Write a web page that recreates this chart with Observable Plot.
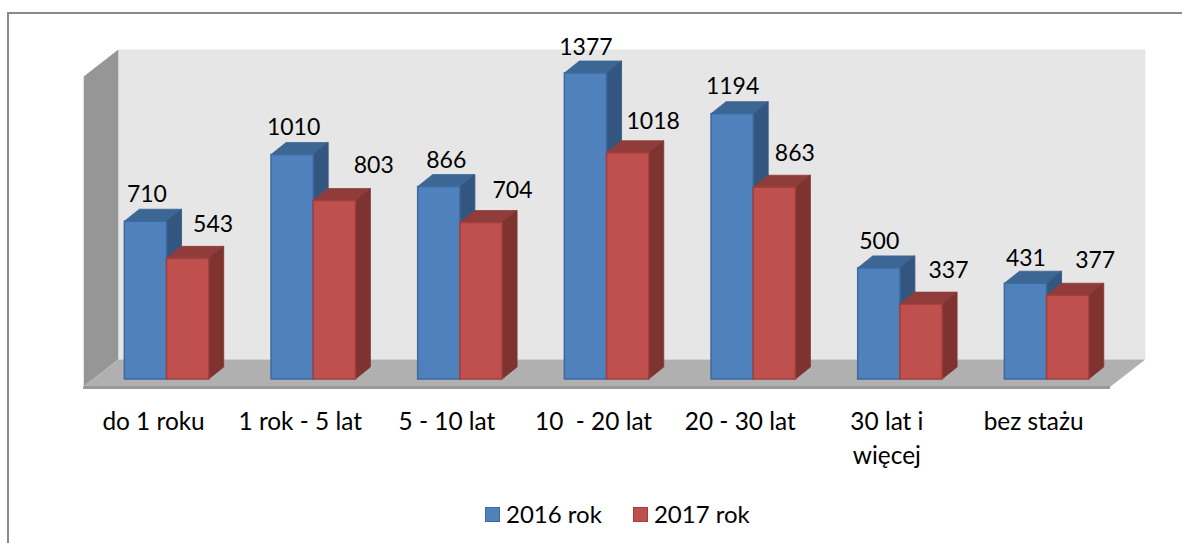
<!DOCTYPE html>
<html>
<head>
<meta charset="utf-8">
<script src="https://cdn.jsdelivr.net/npm/d3@7"></script>
<script src="https://cdn.jsdelivr.net/npm/@observablehq/plot@0.6"></script>
<style>
  html, body { margin: 0; padding: 0; background: #fff; width: 1182px; height: 543px; overflow: hidden; }
  body { position: relative; font-family: Lato, "Open Sans", sans-serif; color: #000; }
  #frame { position: absolute; left: 7px; top: 12px; right: -4px; bottom: -4px; border-left: 2px solid #8a8a8a; border-top: 2px solid #8a8a8a; }
  #chart { position: absolute; left: 0; top: 0; }
  #chart svg { display: block; background: transparent; }
  #legend { position: absolute; top: 499px; left: 485px; display: flex; align-items: center; font-size: 24px; line-height: 30px; white-space: nowrap; }
  #legend .sw { width: 13px; height: 13px; border: 1.5px solid; margin-right: 6px; }
  #legend .it { display: flex; align-items: center; margin-right: 31px; }
</style>
</head>
<body>
<div id="frame"></div>
<div id="chart"></div>
<div id="legend"></div>
<script>
const categories = ["do 1 roku", "1 rok - 5 lat", "5 - 10 lat", "10  - 20 lat", "20 - 30 lat", "30 lat i\nwięcej", "bez stażu"];
const seriesNames = ["2016 rok", "2017 rok"];
const values2016 = [710, 1010, 866, 1377, 1194, 500, 431];
const values2017 = [543, 803, 704, 1018, 863, 337, 377];

const front = ["#4f81bd", "#c0504d"];
const edge  = ["#3d6a9e", "#a03f3c"];
const topC  = ["#3c6694", "#8f3c3a"];
const sideC = ["#335680", "#7e3331"];

// hand-placed label offsets of the original (px from the bar's top centre)
const nudge2016 = [[1,-27],[1,-27],[7,-26],[0,-26],[0,-28],[0,-27],[0,-25]];
const nudge2017 = [[25,-34],[39,-35],[31,-32],[25,-32],[20,-34],[27,-34],[27,-35]];

const barW = 0.2877;
const rows = s => (s === 0 ? values2016 : values2017).map((v, i) => ({
  i, v, s,
  x1: i + 0.5 - (s === 0 ? barW : 0),
  x2: i + 0.5 + (s === 0 ? 0 : barW)
}));

// draws the depth faces of a bar from the scaled positions the mark received
const depth = (s, ddx, ddy) => function (index, scales, ch, dim, ctx, next) {
  const g = next(index, scales, ch, dim, ctx);
  const ns = "http://www.w3.org/2000/svg";
  const first = g.firstChild;
  for (const i of index) {
    const a = ch.x1[i], b = ch.x2[i], t = ch.y2[i], o = ch.y1[i];
    const faces = [
      [[[a, t], [a + ddx, t + ddy], [b + ddx, t + ddy], [b, t]], topC[s]],
      [[[b, t], [b + ddx, t + ddy], [b + ddx, o + ddy], [b, o]], sideC[s]]
    ];
    for (const [pts, c] of faces) {
      const p = document.createElementNS(ns, "polygon");
      p.setAttribute("points", pts.map(q => q.join(",")).join(" "));
      p.setAttribute("fill", c);
      p.setAttribute("stroke", c);
      p.setAttribute("stroke-width", 0.8);
      g.insertBefore(p, first);
    }
  }
  return g;
};

const xL = 0.168, xR = 7.170;       // back wall ends, x units
const xFL = -0.068, xFR = 6.933;    // front floor ends, x units
const yB = 90, yF = -32, yT = 1485; // back floor, front floor, wall top, y units
const poly = (pts, fill) => Plot.line(pts, {x: d => d[0], y: d => d[1], fill, stroke: "none"});

const dataLabels = (s, nudges) => rows(s).map((d, k) =>
  Plot.text([d], {
    x: "x1", y: "v", text: r => String(r.v),
    dx: barW * 73.3 + nudges[k][0], dy: nudges[k][1],
    fontSize: 23, fill: "#000"
  }));

const chart = Plot.plot({
  width: 1182, height: 543,
  margin: 0,
  style: {fontFamily: "Lato, 'Open Sans', sans-serif", background: "transparent"},
  x: {type: "linear", domain: [0, 7], range: [93.2, 1119.9], axis: null},
  y: {type: "linear", domain: [0, 1377], range: [379, 73], axis: null},
  marks: [
    poly([[xL, yB], [xL, yT], [xR, yT], [xR, yB]], "#e6e6e6"),
    poly([[xFL, yF], [xL, yB], [xL, yT], [xFL, yT - 122]], "#969696"),
    poly([[xFL, yF], [xL, yB], [xR, yB], [xFR, yF]], "#b0b0b0"),
    Plot.ruleY([yF], {x1: xFL, x2: xFR, stroke: "#999999", strokeWidth: 3, dy: 1}),
    Plot.rect(rows(0), {x1: "x1", x2: "x2", y1: 0, y2: "v", fill: front[0], stroke: edge[0], strokeWidth: 1.5, render: depth(0, 15, -12)}),
    Plot.rect(rows(1), {x1: "x1", x2: "x2", y1: 0, y2: "v", fill: front[1], stroke: edge[1], strokeWidth: 1.5, render: depth(1, 15, -12)}),
    ...dataLabels(0, nudge2016),
    ...dataLabels(1, nudge2017),
    Plot.text(categories.map((c, i) => ({c, i})), {
      x: d => d.i + 0.5, y: 0, text: "c",
      dx: -13.5, dy: 27, lineAnchor: "top", lineHeight: 1.375,
      fontSize: 24.4, fill: "#000"
    })
  ]
});
document.getElementById("chart").append(chart);

const legend = document.getElementById("legend");
seriesNames.forEach((n, s) => {
  const it = document.createElement("div");
  it.className = "it";
  const sw = document.createElement("span");
  sw.className = "sw";
  sw.style.background = front[s];
  sw.style.borderColor = edge[s];
  const t = document.createElement("span");
  t.textContent = n;
  it.append(sw, t);
  legend.append(it);
});
</script>
</body>
</html>
